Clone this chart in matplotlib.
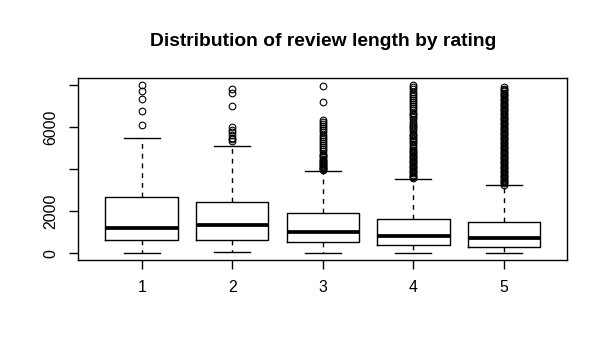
import matplotlib
matplotlib.use('Agg')
import matplotlib.pyplot as plt

plt.rcParams['font.family'] = ['Liberation Sans', 'DejaVu Sans']

# box statistics per rating
ratings = [1, 2, 3, 4, 5]
low_whisk = [0, 50, 15, 0, 0]
q1 = [620, 620, 555, 380, 285]
med = [1190, 1330, 1000, 825, 715]
q3 = [2665, 2430, 1905, 1620, 1475]
high_whisk = [5475, 5095, 3920, 3540, 3250]

fliers_1 = [6110, 6760, 7330, 7710, 8000]
fliers_2 = [5330, 5420, 5500, 5620, 5750, 5880, 5990, 7010, 7650, 7800]
fliers_3 = [3960, 4000, 4040, 4080, 4120, 4160, 4200, 4250, 4300, 4350,
            4400, 4450, 4500, 4560, 4620, 4680, 4750, 4850, 4950, 5050,
            5150, 5250, 5350, 5450, 5550, 5650, 5750, 5850, 5950, 6050,
            6150, 6250, 6350, 7180, 7970]
fliers_4 = [3560, 3620, 3680, 3740, 3800, 3860, 3920, 3980, 4040, 4100,
            4160, 4220, 4280, 4340, 4400, 4460, 4520, 4580, 4640, 4700,
            4760, 4820, 4880, 4940, 5000, 5100, 5200, 5280, 5350, 5420,
            5500, 5560, 5620, 5700, 5800, 5900, 6000, 6080, 6160, 6250,
            6400, 6500, 6600, 6650, 6700, 6800, 6900, 7000, 7100, 7200,
            7300, 7400, 7500, 7600, 7700, 7800, 7900, 8010]
fliers_5 = [3270, 3330, 3390, 3450, 3510, 3570, 3630, 3690, 3750, 3810,
            3870, 3930, 3990, 4050, 4110, 4170, 4230, 4290, 4350, 4410,
            4470, 4530, 4590, 4650, 4710, 4770, 4830, 4890, 4950, 5010,
            5070, 5130, 5190, 5250, 5310, 5370, 5430, 5490, 5550, 5610,
            5670, 5730, 5790, 5850, 5910, 5970, 6030, 6090, 6150, 6210,
            6270, 6330, 6390, 6450, 6510, 6570, 6630, 6690, 6750, 6810,
            6870, 6930, 6990, 7050, 7110, 7170, 7230, 7290, 7350, 7410,
            7470, 7530, 7590, 7650, 7710, 7770, 7830, 7930]
fliers = [fliers_1, fliers_2, fliers_3, fliers_4, fliers_5]

yticks = [0, 2000, 4000, 6000, 8000]
ytick_labels = ['0', '2000', '', '6000', '']

stats = []
for i in range(len(ratings)):
    stats.append({'whislo': low_whisk[i], 'q1': q1[i], 'med': med[i],
                  'q3': q3[i], 'whishi': high_whisk[i], 'fliers': fliers[i]})

fig = plt.figure(figsize=(6.08, 3.58), dpi=100)
ax = fig.add_axes([78.3 / 608, 1 - 260 / 358, (567.3 - 78.3) / 608, (260 - 78.3) / 358])

lw = 1.0
ax.bxp(stats, positions=ratings, widths=0.8,
       boxprops=dict(color='black', linewidth=lw),
       medianprops=dict(color='black', linewidth=2.7, solid_capstyle='butt'),
       whiskerprops=dict(color='black', linewidth=lw, linestyle=(0, (3.5, 3.5))),
       capprops=dict(color='black', linewidth=lw),
       capwidths=0.4,
       flierprops=dict(marker='o', markerfacecolor='none', markeredgecolor='black',
                       markersize=4.8, markeredgewidth=0.8))

# R style axis extension of 4%
all_vals = low_whisk + high_whisk + [v for f in fliers for v in f]
lo, hi = min(all_vals), max(all_vals)
ax.set_ylim(lo - 0.04 * (hi - lo), hi + 0.04 * (hi - lo))
ax.set_xlim(0.5 - 0.2, len(ratings) + 0.5 + 0.2)

ax.set_xticks(ratings)
ax.set_xticklabels([str(r) for r in ratings])
ax.set_yticks(yticks)
ax.set_yticklabels(ytick_labels)
ax.tick_params(axis='both', length=6.5, width=lw, labelsize=11.4, color='black')
ax.tick_params(axis='x', pad=8)
ax.tick_params(axis='y', pad=8, labelrotation=90)
for lab in ax.get_yticklabels():
    lab.set_va('center')

for s in ax.spines.values():
    s.set_linewidth(lw)

fig.text(322.8 / 608, 1 - 41 / 358, 'Distribution of review length by rating',
         ha='center', va='center', fontsize=13.9, fontweight='bold')

fig.savefig('out.png', dpi=100)
